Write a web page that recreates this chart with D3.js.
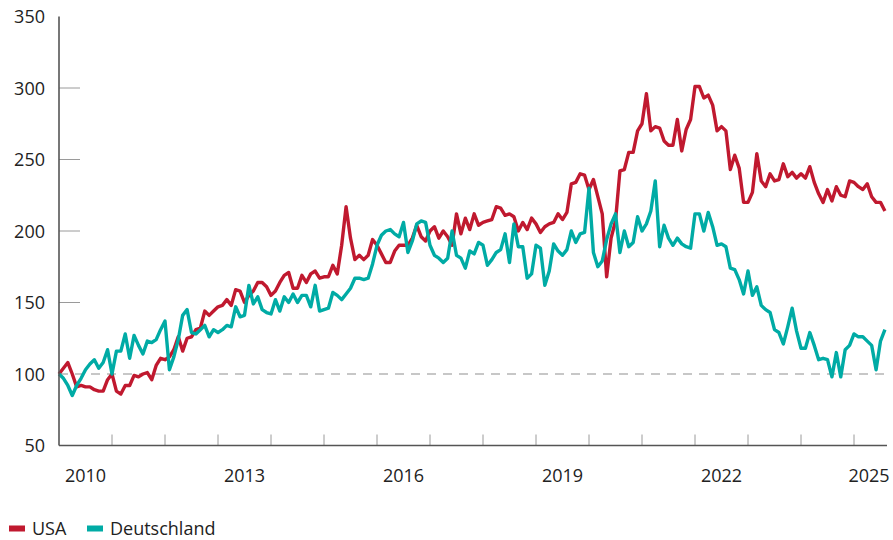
<!DOCTYPE html>
<html>
<head>
<meta charset="utf-8">
<script src="https://cdn.jsdelivr.net/npm/d3@7"></script>
<style>
  body { margin: 0; background: #fff; }
  svg { display: block; font-family: "Open Sans", sans-serif; }
</style>
</head>
<body>
<div id="chart"></div>
<script>
// monthly index values, Jan 2010 = 100
const startYear = 2010;
const usa = [
  100, 104, 108, 100, 91, 92, 91, 91, 89, 88, 88, 96,
  100, 88, 86, 92, 92, 99, 98, 100, 101, 96, 106, 111,
  110, 112, 117, 126, 116, 125, 126, 131, 132, 144, 141, 144,
  147, 148, 152, 148, 159, 158, 150, 155, 158, 164, 164, 161,
  155, 158, 164, 169, 171, 160, 160, 169, 164, 170, 172, 167,
  168, 168, 176, 170, 190, 217, 195, 180, 183, 180, 183, 194,
  190, 184, 178, 178, 186, 190, 190, 190, 195, 204, 196, 193,
  200, 203, 195, 200, 196, 190, 212, 198, 209, 201, 212, 204,
  206, 207, 208, 217, 216, 211, 212, 210, 200, 206, 201, 209,
  205, 199, 203, 205, 206, 212, 208, 213, 233, 234, 240, 239,
  229, 236, 224, 212, 168, 195, 207, 242, 243, 255, 255, 270,
  275, 296, 270, 273, 272, 263, 260, 260, 278, 256, 271, 278,
  301, 301, 293, 295, 288, 270, 273, 270, 243, 253, 244, 220,
  220, 227, 254, 235, 231, 240, 235, 236, 247, 238, 241, 237,
  240, 237, 245, 234, 226, 220, 229, 221, 231, 225, 224, 235,
  234, 231, 229, 233, 224, 220, 220, 214
];
const deutschland = [
  100, 97, 92, 85, 92, 97, 103, 107, 110, 104, 108, 117,
  100, 116, 116, 128, 111, 127, 120, 114, 123, 122, 124, 131,
  137, 103, 112, 124, 141, 145, 129, 128, 131, 134, 126, 131,
  129, 131, 134, 133, 147, 140, 141, 162, 149, 154, 145, 143,
  142, 152, 144, 154, 150, 156, 150, 155, 155, 147, 162, 144,
  145, 146, 157, 155, 152, 156, 160, 167, 167, 166, 167, 177,
  190, 197, 200, 201, 198, 196, 206, 185, 193, 205, 207, 206,
  190, 183, 181, 178, 181, 200, 183, 181, 174, 186, 184, 192,
  190, 176, 180, 185, 187, 198, 178, 205, 189, 189, 167, 170,
  190, 188, 162, 172, 191, 186, 183, 187, 200, 192, 198, 199,
  230, 185, 175, 179, 194, 205, 212, 185, 200, 189, 192, 210,
  200, 205, 214, 235, 189, 204, 195, 190, 195, 191, 189, 188,
  212, 212, 200, 213, 203, 190, 191, 189, 174, 173, 166, 156,
  172, 155, 161, 148, 145, 143, 131, 129, 121, 133, 146, 130,
  118, 118, 129, 120, 110, 111, 110, 98, 115, 98, 117, 120,
  128, 126, 126, 123, 120, 103, 123, 131
];
const yTicks = [50, 100, 150, 200, 250, 300, 350];
const xLabelYears = [2010, 2013, 2016, 2019, 2022, 2025];
const tickYears = d3.range(2011, 2026);
const seriesNames = ["USA", "Deutschland"];
const seriesColors = ["#c0192f", "#00aba5"];

const width = 893, height = 540;
const plotLeft = 59, plotRight = 887, plotTop = 16.5, plotBottom = 445.5;

const svg = d3.select("#chart").append("svg")
  .attr("width", width)
  .attr("height", height);

const x = d3.scaleLinear()
  .domain([startYear, startYear + (plotRight - plotLeft) / 53])
  .range([plotLeft, plotRight]);

const y = d3.scaleLinear()
  .domain([50, 350])
  .range([plotBottom, plotTop]);

// y ticks (short inward marks) and labels
svg.append("g").selectAll("line")
  .data(yTicks.filter(d => d > 50 && d < 350 && d != 100))
  .join("line")
  .attr("x1", plotLeft).attr("x2", plotLeft + 21)
  .attr("y1", d => y(d)).attr("y2", d => y(d))
  .attr("stroke", "#9a9a9a").attr("stroke-width", 1);

svg.append("g").selectAll("text")
  .data(yTicks)
  .join("text")
  .attr("x", 45)
  .attr("y", d => y(d) + 6.5)
  .attr("text-anchor", "end")
  .attr("font-size", 18)
  .attr("fill", "#222")
  .text(d => d);

// dashed reference at 100
svg.append("line")
  .attr("x1", plotLeft).attr("x2", plotRight)
  .attr("y1", y(100)).attr("y2", y(100))
  .attr("stroke", "#b5b5b5").attr("stroke-width", 1.3)
  .attr("stroke-dasharray", "9,7");

// x ticks at year boundaries
svg.append("g").selectAll("line")
  .data(tickYears)
  .join("line")
  .attr("x1", d => x(d)).attr("x2", d => x(d))
  .attr("y1", plotBottom - 11).attr("y2", plotBottom)
  .attr("stroke", "#9a9a9a").attr("stroke-width", 1);

svg.append("g").selectAll("text")
  .data(xLabelYears)
  .join("text")
  .attr("x", d => Math.min(x(d + 0.5), 869))
  .attr("y", 481.5)
  .attr("text-anchor", "middle")
  .attr("font-size", 18)
  .attr("fill", "#222")
  .text(d => d);

// lines
const line = d3.line()
  .x((d, i) => x(startYear + i / 12))
  .y(d => y(d));

[usa, deutschland].forEach((data, k) => {
  svg.append("path")
    .datum(data)
    .attr("fill", "none")
    .attr("stroke", seriesColors[k])
    .attr("stroke-width", 3.4)
    .attr("stroke-linejoin", "round")
    .attr("d", line);
});

// axis lines
svg.append("line")
  .attr("x1", plotLeft).attr("x2", plotLeft)
  .attr("y1", plotTop).attr("y2", plotBottom)
  .attr("stroke", "#555").attr("stroke-width", 1.6);
svg.append("line")
  .attr("x1", plotLeft).attr("x2", plotRight)
  .attr("y1", plotBottom).attr("y2", plotBottom)
  .attr("stroke", "#555").attr("stroke-width", 1.6);

// legend
const legendX = [9, 87];
const legend = svg.append("g");
seriesNames.forEach((name, k) => {
  legend.append("rect")
    .attr("x", legendX[k]).attr("y", 525.5)
    .attr("width", 16).attr("height", 6)
    .attr("fill", seriesColors[k]);
  legend.append("text")
    .attr("x", legendX[k] + 23)
    .attr("y", 534.5)
    .attr("font-size", 18)
    .attr("fill", "#222")
    .text(name);
});
</script>
</body>
</html>
